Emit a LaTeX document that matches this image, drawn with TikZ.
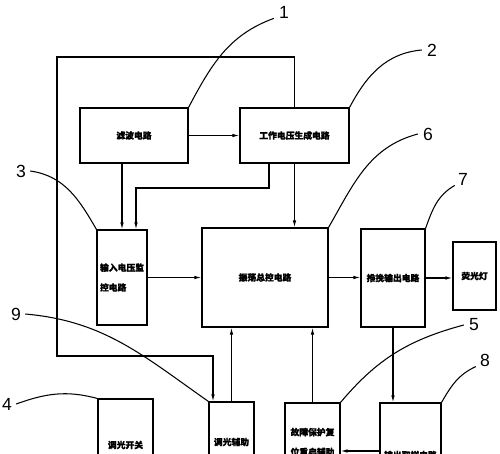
\documentclass[tikz,border=0pt]{standalone}
\usepackage{fontspec}
\setmainfont{Liberation Sans}
\newfontfamily\cjk[BoldFeatures={FakeBold=1.2}]{Noto Sans CJK SC}
\usetikzlibrary{arrows.meta}

\begin{document}
\begin{tikzpicture}[x=0.02cm,y=-0.02cm,
    box/.style={draw,line width=0.6pt,inner sep=0pt,align=left,
        font=\cjk\bfseries\fontsize{5}{11.3}\selectfont},
    arr/.style={line width=0.6pt,-{Latex[length=4pt,width=2pt]}},
    lead/.style={line width=0.6pt},
    num/.style={inner sep=0pt,font=\fontsize{10}{10}\selectfont}]
    \useasboundingbox (0,0) rectangle (500,453);
    \clip (0,0) rectangle (500,453);

    % blocks
    \node[box,minimum width=2.16cm,minimum height=1.1cm] (lvbo) at (134,135.5) {滤波电路};
    \node[box,minimum width=2.18cm,minimum height=1.1cm] (gongzuo) at (294.5,135.5) {工作电压生成电路};
    \node[box,minimum width=1cm,minimum height=1.9cm] (shuru) at (122,277.5) {输入电压监\\控电路};
    \node[box,minimum width=2.52cm,minimum height=1.98cm] (zhendang) at (265,277.5) {振荡总控电路};
    \node[box,minimum width=1.28cm,minimum height=1.96cm] (tuiwan) at (393,278) {推挽输出电路};
    \node[box,minimum width=0.86cm,minimum height=1.36cm] (deng) at (474.5,276) {荧光灯};
    \node[box,minimum width=1.1cm,minimum height=1.84cm] (kaiguan) at (125.5,445) {调光开关};
    \node[box,minimum width=0.9cm,minimum height=1.6cm] (fuzhu) at (231.5,442) {调光辅助};
    \node[box,minimum width=1.1cm,minimum height=1.56cm] (guzhang) at (312.5,442) {故障保护复\\位重启辅助};
    \node[box,minimum width=1.22cm,minimum height=2.08cm] (quyang) at (410.5,455) {输出取样电路};

    % connections
    \draw[arr] (lvbo) -- (gongzuo);
    \draw[arr] (lvbo.south -| shuru.north) -- (shuru.north);
    \coordinate (g1) at (269,163);
    \draw[arr] (g1) -- ++(0,25) -| ([xshift=0.28cm]shuru.north);
    \draw[arr] (gongzuo.south) -- (gongzuo.south |- zhendang.north);
    \draw[arr] (shuru.east) -- (shuru.east -| zhendang.west);
    \draw[arr] (zhendang.east) -- (zhendang.east -| tuiwan.west);
    \draw[arr] (tuiwan.east) -- (tuiwan.east -| deng.west);
    \draw[arr] (tuiwan.south) -- (tuiwan.south |- quyang.north);
    \draw[arr] (fuzhu.north) -- (fuzhu.north |- zhendang.south);
    \draw[arr] (guzhang.north) -- (guzhang.north |- zhendang.south);
    \draw[arr] (quyang.west |- 0,451) -- (guzhang.east |- 0,451);

    % outer loop
    \coordinate (f1) at (213,356);
    \draw[arr] (gongzuo.north) |- (57,57) |- (f1) -- (f1 |- fuzhu.north);

    % reference numbers
    \node[num] (n1) at (284,12) {1};
    \node[num] (n2) at (432,50) {2};
    \node[num] (n3) at (21,171) {3};
    \node[num] (n4) at (7,404) {4};
    \node[num] (n5) at (474,325) {5};
    \node[num] (n6) at (428,134) {6};
    \node[num] (n7) at (463,179) {7};
    \node[num] (n8) at (485,360) {8};
    \node[num] (n9) at (16,314) {9};

    \draw[lead] (lvbo.north east) to[out=62,in=200] ([xshift=-0.1cm]n1.south west);
    \draw[lead] (gongzuo.north east) to[out=62,in=185] ([xshift=-0.1cm]n2.west);
    \draw[lead] (zhendang.north east) to[out=60,in=195] ([xshift=-0.1cm]n6.west);
    \draw[lead] (tuiwan.north east) to[out=70,in=210] ([xshift=-0.06cm]n7.south west);
    \draw[lead] ([xshift=0.08cm]n3.east) to[out=-8,in=120] (shuru.north west);
    \draw[lead] ([xshift=0.08cm]n9.east) to[out=-5,in=145] (fuzhu.north west);
    \draw[lead] ([xshift=0.08cm]n4.east) to[out=20,in=165] (kaiguan.north west);
    \draw[lead] (guzhang.north east) to[out=50,in=195] ([xshift=-0.1cm]n5.west);
    \draw[lead] (quyang.north east) to[out=60,in=205] ([xshift=-0.08cm]n8.south west);
\end{tikzpicture}
\end{document}
